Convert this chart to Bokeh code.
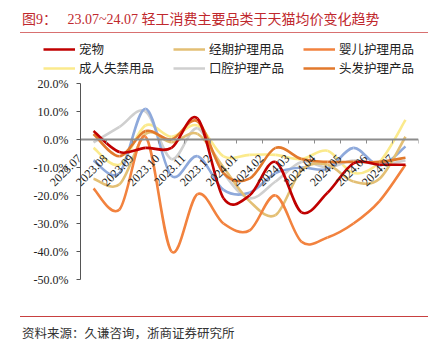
import numpy as np
from bokeh.plotting import figure
from bokeh.models import (Range1d, Legend, LegendItem, Div, FixedTicker, PrintfTickFormatter, LinearAxis)
from bokeh.layouts import column
from bokeh.embed import file_html
from bokeh.resources import INLINE

months = ["2023.07", "2023.08", "2023.09", "2023.10", "2023.11", "2023.12",
          "2024.01", "2024.02", "2024.03", "2024.04", "2024.05", "2024.06", "2024.07"]

pet = [3, -4.5, -3, -3, 7.5, -21, -20, -8, -26, -19, -8.5, -9, -9]
menstrual = [-14, -16, 2, -1, 2, -10, -22, -27, -11, -9, -15, -14, 1]
baby = [-17.5, -25, 1, -40, -19.5, -30, -32.5, -20, -36.5, -35, -30, -22, -9]
adult = [-3, -9, 5, 1, 5, -6, -5.5, -5.5, -7, -4, -12, -8, 7]
oral = [-1, 4.5, 10, -7, 4, -12, -21, -15, -8, -10, -7.5, -9, -7.5]
hair = [2, -6, 3, 0, 6.5, -12, -14, -3, -7, -8, -8, -8, -6.5]
unlabeled = [-7.5, -12, 11, -13, -6, -18, -19, -12, -10, -10.5, -3, -9.3, -2.5]

y_ticks = [-50, -40, -30, -20, -10, 0, 10, 20]
y_min, y_max = -50, 20

series = [
    ("成人失禁用品", adult, "#FBEA8C"),
    ("口腔护理产品", oral, "#CFCFCF"),
    (None, unlabeled, "#8EA9DB"),
    ("经期护理用品", menstrual, "#E3BF74"),
    ("婴儿护理用品", baby, "#F2823E"),
    ("头发护理产品", hair, "#E2792C"),
    ("宠物", pet, "#C00000"),
]
legend_order = ["宠物", "经期护理用品", "婴儿护理用品", "成人失禁用品", "口腔护理产品", "头发护理产品"]

n = len(months)
centers = [i + 0.5 for i in range(n)]

# pixel layout of the figure (figure spans page y 40..300)
FIG_W, FIG_H = 444, 260
AXIS_PX, FRAME_LEFT, FRAME_RIGHT = 80, 30, 418      # value axis at x=80, data area to 418
DATA_TOP, DATA_BOTTOM, FRAME_BOTTOM = 43, 239, 256   # 20% at y=43, -50% at y=239 (figure coords)
LABEL_SHIFT_PX = 14                                  # rotated month labels end at the category
unit_x = (FRAME_RIGHT - AXIS_PX) / n
unit_y = (DATA_BOTTOM - DATA_TOP) / (y_max - y_min)
x_start = -(AXIS_PX - FRAME_LEFT) / unit_x
y_end = y_max + DATA_TOP / unit_y
y_start = y_min - (FRAME_BOTTOM - DATA_BOTTOM) / unit_y
label_ticks = [c - LABEL_SHIFT_PX / unit_x for c in centers]

p = figure(width=FIG_W, height=FIG_H, x_range=Range1d(x_start, n),
           y_range=Range1d(y_start, y_end), output_backend="svg", toolbar_location=None,
           x_axis_location=None, y_axis_location=None,
           min_border_left=FRAME_LEFT, min_border_right=FIG_W - FRAME_RIGHT,
           min_border_top=0, min_border_bottom=FIG_H - FRAME_BOTTOM)
p.outline_line_color = None
p.xgrid.grid_line_color = None
p.ygrid.grid_line_color = None
p.background_fill_color = "white"
p.border_fill_color = "white"

yax = LinearAxis(fixed_location=0, bounds=(y_min, y_max), ticker=FixedTicker(ticks=y_ticks),
                 formatter=PrintfTickFormatter(format="%.1f%%"),
                 major_label_text_font="Liberation Serif", major_label_text_font_size="12px",
                 major_label_text_color="#222222", axis_line_color="#555555",
                 major_tick_line_color="#555555", major_tick_out=4, major_tick_in=0,
                 minor_tick_line_color=None, major_label_standoff=8)
p.add_layout(yax, "left")

xax = LinearAxis(fixed_location=0, bounds=(0, n),
                 ticker=FixedTicker(ticks=label_ticks, minor_ticks=list(range(n + 1))),
                 major_label_overrides={t: m for t, m in zip(label_ticks, months)},
                 axis_line_color="#8C8C8C", axis_line_width=2,
                 major_tick_line_color=None, minor_tick_line_color="#8C8C8C",
                 minor_tick_out=4, minor_tick_in=0,
                 major_label_orientation=np.pi / 4,
                 major_label_text_font="Liberation Serif", major_label_text_font_size="12px",
                 major_label_text_color="#222222", major_label_standoff=11)
p.add_layout(xax, "below")


def bez(vals):
    x = np.arange(len(vals)) + 0.5
    y = np.array(vals, dtype=float)
    xp = np.concatenate([[x[0]], x, [x[-1]]])
    yp = np.concatenate([[y[0]], y, [y[-1]]])
    i = np.arange(len(vals) - 1)
    return dict(x0=x[:-1], y0=y[:-1], x1=x[1:], y1=y[1:],
                cx0=x[:-1] + (xp[i + 2] - xp[i]) / 6, cy0=y[:-1] + (yp[i + 2] - yp[i]) / 6,
                cx1=x[1:] - (xp[i + 3] - xp[i + 1]) / 6, cy1=y[1:] - (yp[i + 3] - yp[i + 1]) / 6)


rends = {}
for name, vals, color in series:
    r = p.bezier(**bez(vals), line_color=color, line_width=2.6)
    if name:
        rends[name] = r

items = [LegendItem(label=nm, renderers=[rends[nm]], index=0) for nm in legend_order]
legend = Legend(items=items, orientation="horizontal", ncols=3,
                location=(13, FRAME_BOTTOM - 37),
                glyph_width=32, glyph_height=16, label_height=16, label_width=94,
                label_standoff=4, spacing=0, padding=0, margin=0,
                border_line_color=None, background_fill_alpha=0,
                label_text_font="Noto Sans CJK SC", label_text_font_size="12.5px",
                label_text_color="#222222")
p.add_layout(legend, "center")

top = Div(width=444, height=40, margin=0, text=(
    '<div style="position:relative;width:444px;height:40px;">'
    '<div style="position:absolute;left:22px;top:8px;white-space:nowrap;color:#C0282D;'
    'font-family:\'Liberation Serif\',\'Noto Sans CJK SC\';font-size:14px;">'
    '图9：&nbsp;&nbsp;&nbsp;23.07~24.07 '
    '<span style="font-family:\'Noto Sans CJK SC\';font-size:14px;">轻工消费主要品类于天猫均价变化趋势</span></div>'
    '<div style="position:absolute;left:20px;top:32px;width:408px;height:1px;background:#D87070;"></div>'
    '</div>'))

bottom = Div(width=444, height=56, margin=0, text=(
    '<div style="position:relative;width:444px;height:56px;">'
    '<div style="position:absolute;left:20px;top:16px;width:408px;height:1px;background:#C84040;"></div>'
    '<div style="position:absolute;left:22px;top:24px;white-space:nowrap;color:#333333;'
    'font-family:\'Noto Sans CJK SC\';font-size:12.5px;">资料来源：久谦咨询，浙商证券研究所</div>'
    '</div>'))

layout = column(top, p, bottom, spacing=0, margin=0)
open("out.html", "w").write(file_html(layout, INLINE))
